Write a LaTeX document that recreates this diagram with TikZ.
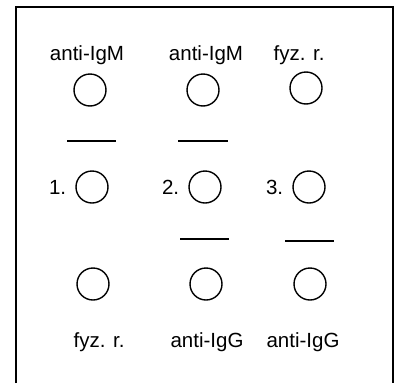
\documentclass[tikz,border=0pt]{standalone}
\usepackage{fontspec}
\setmainfont{Liberation Sans}
\usetikzlibrary{positioning}

\begin{document}
\begin{tikzpicture}[x=1pt,y=-1pt,
    well/.style={circle,draw,line width=1.4pt,minimum size=32pt,inner sep=0pt},
    lbl/.style={font=\fontsize{20.5}{24}\selectfont,inner sep=0pt},
    bar/.style={line width=1.4pt}]
    \useasboundingbox (0,0) rectangle (401,383);
    % open frame
    \draw[line width=2pt] (16,383) -- (16,7) -- (393,7) -- (393,383);
    % top row
    \node[lbl] (t1) at (87,55) {anti-IgM};
    \node[lbl] (t2) at (206,55) {anti-IgM};
    \node[lbl] (t3) at (299,55) {fyz. r.};
    \node[well] (a1) at (90,90) {};
    \node[well] (a2) at (203,90) {};
    \node[well] (a3) at (306,88) {};
    % middle row
    \node[well] (b1) at (92,187) {};
    \node[well] (b2) at (205,187) {};
    \node[well] (b3) at (309,187) {};
    \node[lbl,left=9pt of b1] (n1) {1.};
    \node[lbl,left=9pt of b2] (n2) {2.};
    \node[lbl,left=9pt of b3] (n3) {3.};
    % bottom row
    \node[well] (c1) at (93,284) {};
    \node[well] (c2) at (206,284) {};
    \node[well] (c3) at (310,284) {};
    \node[lbl] (u1) at (99,342) {fyz. r.};
    \node[lbl] (u2) at (207,342) {anti-IgG};
    \node[lbl] (u3) at (303,342) {anti-IgG};
    % bars
    \draw[bar] (67,141) -- (116,141);
    \draw[bar] (178,141) -- (228,141);
    \draw[bar] (180,239) -- (229,239);
    \draw[bar] (285,241) -- (334,241);
\end{tikzpicture}
\end{document}
